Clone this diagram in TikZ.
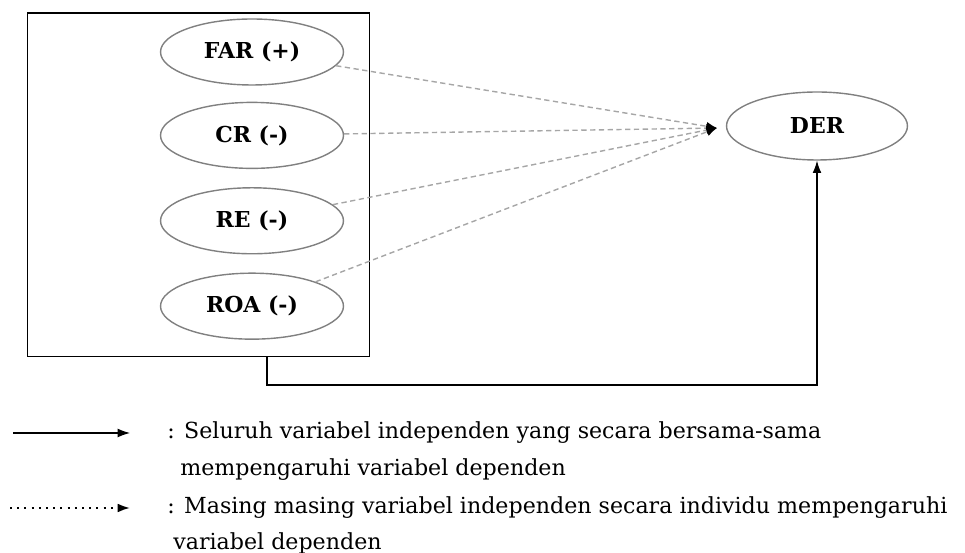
\documentclass[tikz,border=0pt]{standalone}
\usepackage{fontspec}
\setmainfont{DejaVu Serif}
\usepackage{tikz}
\usetikzlibrary{
	shapes.geometric,
	arrows.meta,
	positioning,
	calc
}

\begin{document}
\begin{tikzpicture}[
				x=0.02cm, y=-0.02cm,
				varnode/.style={
					ellipse, draw=gray, thick,
					minimum width=3.66cm, minimum height=1.32cm,
					font=\bfseries\fontsize{12.5}{15}\selectfont
				},
				groupbox/.style={
					rectangle, draw, semithick,
					minimum width=6.86cm, minimum height=6.88cm
				},
				dasharrow/.style={-{Latex[length=6pt, width=5pt, color=black]}, densely dashed, gray!70, thick},
				arrow/.style={-{Latex[length=7pt, width=5pt]}, semithick, black},
				legendtext/.style={anchor=west, font=\fontsize{12.6}{15}\selectfont, inner sep=0pt}
				]
				\useasboundingbox (0,0) rectangle (965,553);
				
				% box round the independent variables
				\node[groupbox] (group) at (198.5,185) {};
				
				% FAR
				\node[varnode] (far) at (252,52) {FAR (+)};
				
				% CR
				\node[varnode, below=0.32cm of far] (cr) {CR (-)};
				
				% RE
				\node[varnode, below=0.36cm of cr] (re) {RE (-)};
				
				% ROA
				\node[varnode, below=0.36cm of re] (roa) {ROA (-)};
				
				% DER
				\node[varnode, minimum width=3.62cm, minimum height=1.36cm] (der) at (817,126) {DER};
				
				% dashed arrows into one point
				\coordinate (tip) at (717,128);
				\draw[dasharrow] (far) -- (tip);
				\draw[dasharrow] (cr)  -- (tip);
				\draw[dasharrow] (re)  -- (tip);
				\draw[dasharrow] (roa) -- (tip);
				
				% solid arrow from the box to DER
				\coordinate (boxout) at (267,357);
				\coordinate (bend) at (267,385);
				\draw[arrow] (boxout) -- (bend) -| (der.south);
				
				% legend
				\coordinate (solidstart) at (13,433);
				\coordinate (solidend) at (130,433);
				\coordinate (dotstart) at (10,508);
				\coordinate (dotend) at (130,508);
				\draw[arrow] (solidstart) -- (solidend);
				\draw[arrow, line width=1.1pt, dash pattern=on 1.1pt off 3pt] (dotstart) -- (dotend);
				\node[legendtext] (legA) at (167,433) {: Seluruh variabel independen yang secara bersama-sama};
				\node[legendtext] (legB) at (180,470) {mempengaruhi variabel dependen};
				\node[legendtext] (legC) at (167,508) {: Masing masing variabel independen secara individu mempengaruhi};
				\node[legendtext] (legD) at (173,543) {variabel dependen};
			\end{tikzpicture}
\end{document}
